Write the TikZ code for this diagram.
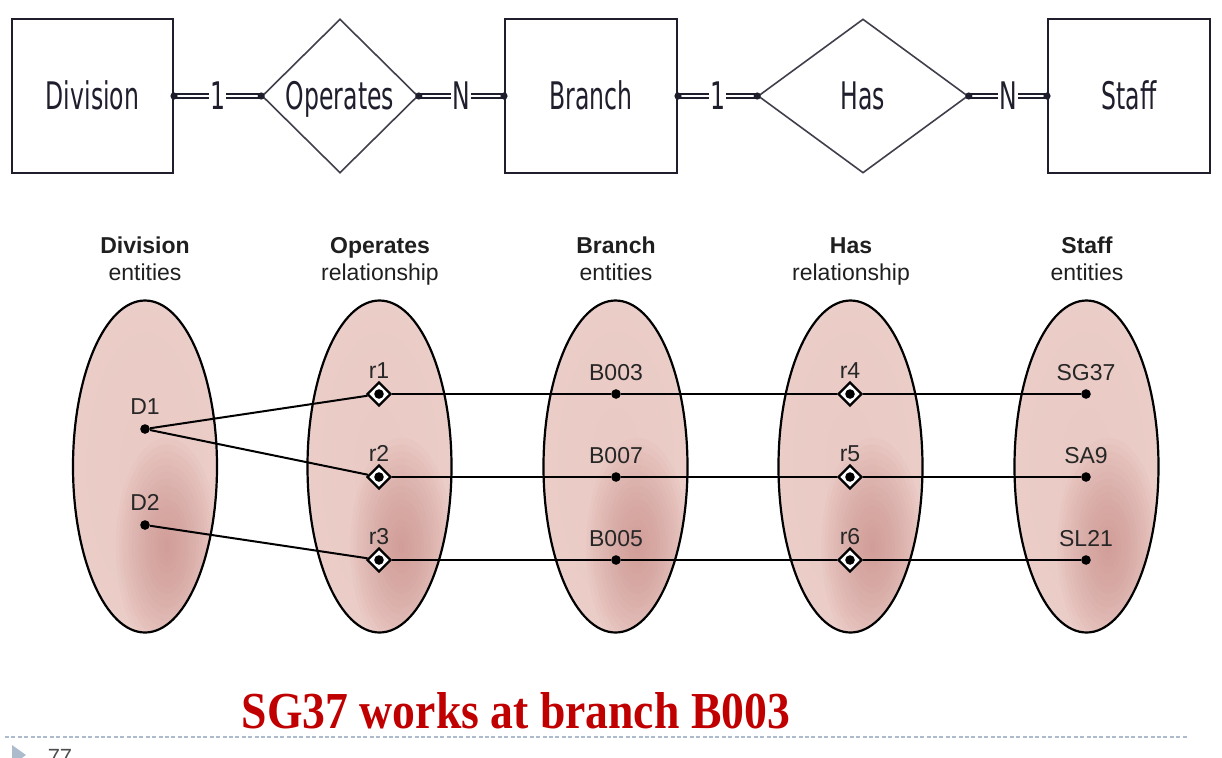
\documentclass[tikz,border=0pt]{standalone}
\usepackage{graphicx}
\usepackage{fontspec}
\setmainfont{Liberation Sans}
\newfontfamily\topfont{DejaVu Sans}
\newfontfamily\titlefont{Liberation Serif}
\usetikzlibrary{shapes.geometric}
\definecolor{ink}{RGB}{30,30,44}
\definecolor{titlered}{RGB}{192,0,0}
\definecolor{slidegrey}{RGB}{172,188,204}
\definecolor{blobcol}{rgb}{0.78,0.52,0.50}
\pgfdeclareradialshading{pinkbase}{\pgfpoint{0bp}{0bp}}{%
 rgb(0bp)=(0.915,0.79,0.77);
 rgb(22bp)=(0.92,0.80,0.78);
 rgb(34bp)=(0.935,0.83,0.815);
 rgb(44bp)=(0.955,0.88,0.87);
 rgb(50bp)=(0.975,0.935,0.925);
 rgb(100bp)=(0.975,0.935,0.925)}
\newcommand{\sq}[1]{\scalebox{0.62}[1]{#1}}
\tikzset{
 topfnt/.style={text=ink, font=\topfont\fontsize{19pt}{22pt}\selectfont},
 erbox/.style={topfnt, draw=ink, line width=1pt, minimum height=77pt, inner sep=0pt,
   text height=15pt, text depth=2pt},
 erdia/.style={topfnt, diamond, draw=ink!85, line width=0.8pt, minimum height=77pt, inner sep=0pt,
   text height=15pt, text depth=2pt},
 erlink/.style={draw=ink, double=white, line width=1.1pt, double distance=1.2pt},
 card/.style={topfnt, fill=white, inner sep=0.6pt},
 ell/.style={ellipse, shading=pinkbase, draw=black, line width=1.1pt, minimum width=72pt,
   minimum height=166pt, inner sep=0pt,
   path picture={\foreach \k in {16,15,...,1}
     \fill[blobcol, opacity=0.05]
       ([xshift=11pt,yshift=-40pt]path picture bounding box.center)
       ellipse ({1.6pt*\k} and {3.4pt*\k});}},
 dot/.style={circle, fill=black, inner sep=0pt, minimum size=4.8pt},
 rel/.style={diamond, draw=black, fill=white, line width=1.2pt, inner sep=0pt, minimum size=12pt},
 conn/.style={line width=1pt, black},
 hdr/.style={anchor=base, text=black!88, font=\fontsize{11.5pt}{13pt}\selectfont},
 ptlab/.style={anchor=base, text=black!85, font=\fontsize{11.5pt}{13pt}\selectfont},
 dashline/.style={draw=slidegrey, line width=0.8pt, dash pattern=on 2pt off 1.2pt},
}
\begin{document}
\begin{tikzpicture}[x=0.5pt,y=-0.5pt]
\useasboundingbox (0,0) rectangle (1222,757);
\clip (0,0) rectangle (1222,757);
% ---------- ER diagram ----------
\node[erbox, minimum width=80.5pt] (div) at (92.5,96) {\sq{Division}};
\node[erdia, minimum width=78pt] (ops) at (340,96) {\sq{Operates}};
\node[erbox, minimum width=86pt] (bra) at (591,96) {\sq{Branch}};
\node[erdia, minimum width=105pt] (has) at (863,96) {\sq{Has}};
\node[erbox, minimum width=81pt] (sta) at (1129,96) {\sq{Staff}};
\draw[erlink] (div.east) -- node[card] {\sq{1}} (ops.west);
\draw[erlink] (ops.east) -- node[card] {\sq{N}} (bra.west);
\draw[erlink] (bra.east) -- node[card] {\sq{1}} (has.west);
\draw[erlink] (has.east) -- node[card] {\sq{N}} (sta.west);
\foreach \a in {div.east,ops.west,ops.east,bra.west,bra.east,has.west,has.east,sta.west}
  \fill[ink] (\a) circle (1.8pt);
% ---------- headers ----------
\node[hdr] (h1) at (145,253) {\textbf{Division}};
\node[hdr] (h1b) at (145,280) {entities};
\node[hdr] (h2) at (380,253) {\textbf{Operates}};
\node[hdr] (h2b) at (380,280) {relationship};
\node[hdr] (h3) at (616,253) {\textbf{Branch}};
\node[hdr] (h3b) at (616,280) {entities};
\node[hdr] (h4) at (851,253) {\textbf{Has}};
\node[hdr] (h4b) at (851,280) {relationship};
\node[hdr] (h5) at (1087,253) {\textbf{Staff}};
\node[hdr] (h5b) at (1087,280) {entities};
% ---------- ellipses ----------
\node[ell] (eD) at (145,466.5) {};
\node[ell] (eO) at (379.5,466.5) {};
\node[ell] (eB) at (615.5,466.5) {};
\node[ell] (eH) at (850.5,466.5) {};
\node[ell] (eS) at (1086.5,466.5) {};
% ---------- occurrences ----------
\node[dot] (D1) at (145,429) {};
\node[dot] (D2) at (145,525) {};
\node[rel] (r1) at (379,394) {};
\node[rel] (r2) at (379,477) {};
\node[rel] (r3) at (379,560) {};
\node[dot] (B003) at (616,394) {};
\node[dot] (B007) at (616,477) {};
\node[dot] (B005) at (616,560) {};
\node[rel] (r4) at (850,394) {};
\node[rel] (r5) at (850,477) {};
\node[rel] (r6) at (850,560) {};
\node[dot] (SG37) at (1086,394) {};
\node[dot] (SA9) at (1086,477) {};
\node[dot] (SL21) at (1086,560) {};
\node[ptlab] at (145,414) {D1};
\node[ptlab] at (145,510) {D2};
\node[ptlab] at (379,378) {r1};
\node[ptlab] at (379,461) {r2};
\node[ptlab] at (379,544) {r3};
\node[ptlab] at (616,380) {B003};
\node[ptlab] at (616,463) {B007};
\node[ptlab] at (616,546) {B005};
\node[ptlab] at (850,378) {r4};
\node[ptlab] at (850,461) {r5};
\node[ptlab] at (850,544) {r6};
\node[ptlab] at (1086,380) {SG37};
\node[ptlab] at (1086,463) {SA9};
\node[ptlab] at (1086,546) {SL21};
\draw[conn] (D1) -- (r1);
\draw[conn] (D1) -- (r2);
\draw[conn] (D2) -- (r3);
\draw[conn] (r1) -- (B003) -- (r4) -- (SG37);
\draw[conn] (r2) -- (B007) -- (r5) -- (SA9);
\draw[conn] (r3) -- (B005) -- (r6) -- (SL21);
\foreach \r in {r1,r2,r3,r4,r5,r6}
  \fill[black] (\r.center) circle (2.4pt);
% ---------- caption and slide footer ----------
\node[anchor=base, text=titlered, inner sep=0pt] (title) at (516,728)
  {\resizebox{274pt}{18pt}{\titlefont\bfseries SG37 works at branch B003}};
\draw[dashline] (5,737) -- (1188,737);
\fill[slidegrey] (12,745) -- (26,755) -- (12,765) -- cycle;
\node[anchor=base, text=black!70, inner sep=0pt, font=\fontsize{11pt}{13pt}\selectfont] (pg) at (60,764) {77};
\end{tikzpicture}
\end{document}
